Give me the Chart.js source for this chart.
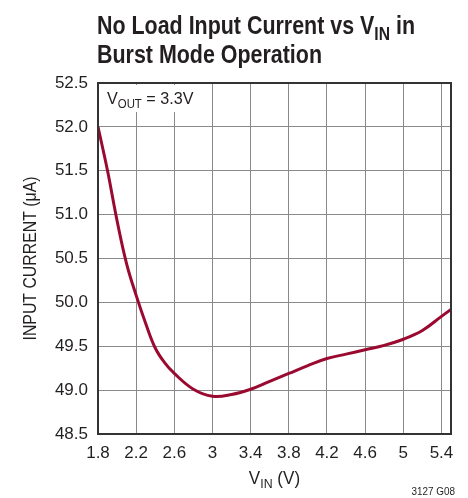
<!DOCTYPE html>
<html>
<head>
<meta charset="utf-8">
<script src="https://cdn.jsdelivr.net/npm/chart.js@4.4.1/dist/chart.umd.min.js"></script>
<style>
  html, body { margin: 0; padding: 0; background: #fff; }
  #wrap { width: 468px; height: 498px; }
</style>
</head>
<body>
<div id="wrap"><canvas id="vinChart" width="468" height="498"></canvas></div>
<script>
// data
const vin = [1.8, 1.9, 2.0, 2.1, 2.2, 2.3, 2.4, 2.5, 2.6, 2.8, 3.0, 3.2, 3.4, 3.6, 3.8, 4.0, 4.2, 4.4, 4.6, 4.8, 5.0, 5.2, 5.4, 5.5];
const current = [52.0, 51.5, 50.93, 50.44, 50.08, 49.76, 49.48, 49.31, 49.19, 49.01, 48.93, 48.95, 49.01, 49.1, 49.19, 49.28, 49.36, 49.41, 49.46, 49.51, 49.58, 49.68, 49.84, 49.92];
const xTicks = [1.8, 2.2, 2.6, 3, 3.4, 3.8, 4.2, 4.6, 5, 5.4];
const yTicks = [48.5, 49.0, 49.5, 50.0, 50.5, 51.0, 51.5, 52.0, 52.5];

const FONT = "'Liberation Sans', Arial, sans-serif";
const INK = "#231f20";

// draw text with subscript pieces, squeeze = horizontal scale
const drawParts = (ctx, parts, x, y, size, weight, align, squeeze) => {
  squeeze = squeeze || 1;
  let total = 0;
  for (let p of parts) {
    ctx.font = `${weight} ${p.sub ? Math.round(size * 0.72) : size}px ${FONT}`;
    p.w = ctx.measureText(p.t).width * squeeze;
    total += p.w;
  }
  let cx = x;
  if (align === "center") cx = x - total / 2;
  if (align === "right") cx = x - total;
  ctx.textAlign = "left";
  ctx.textBaseline = "alphabetic";
  for (let p of parts) {
    ctx.font = `${weight} ${p.sub ? Math.round(size * 0.72) : size}px ${FONT}`;
    ctx.save();
    ctx.translate(cx, p.sub ? y + size * 0.22 : y);
    ctx.scale(squeeze, 1);
    ctx.fillText(p.t, 0, 0);
    ctx.restore();
    cx += p.w;
  }
  return total;
};

const extras = {
  id: "extras",
  beforeDraw(c) {
    const ctx = c.ctx;
    ctx.save();
    ctx.fillStyle = "#fff";
    ctx.fillRect(0, 0, c.width, c.height);
    ctx.restore();
  },
  afterDraw(c) {
    const ctx = c.ctx, a = c.chartArea;
    ctx.save();

    // note box over the grid
    ctx.fillStyle = "#fff";
    ctx.fillRect(a.left + 2, a.top + 2, 76, 27);
    ctx.fillStyle = INK;
    drawParts(ctx, [{ t: "V" }, { t: "OUT", sub: true }, { t: " = 3.3V" }], a.left + 9, a.top + 21, 17, "normal", "left", 0.95);

    // frame
    ctx.strokeStyle = "#333";
    ctx.lineWidth = 2;
    ctx.strokeRect(a.left, a.top, a.right - a.left, a.bottom - a.top);

    // title, squeezed to look like a condensed face
    const t1 = [{ t: "No Load Input Current vs V" }, { t: "IN", sub: true }, { t: " in" }];
    let raw = 0;
    for (let p of t1) {
      ctx.font = `bold ${p.sub ? Math.round(26 * 0.72) : 26}px ${FONT}`;
      raw += ctx.measureText(p.t).width;
    }
    const sq = 318 / raw;
    drawParts(ctx, t1, 97, 34, 26, "bold", "left", sq);
    drawParts(ctx, [{ t: "Burst Mode Operation" }], 97, 63, 26, "bold", "left", sq);

    // x axis title
    drawParts(ctx, [{ t: "V" }, { t: "IN", sub: true }, { t: " (V)" }], (a.left + a.right) / 2, 484, 18, "normal", "center", 0.95);

    // y axis title
    ctx.translate(36, (a.top + a.bottom) / 2);
    ctx.rotate(-Math.PI / 2);
    drawParts(ctx, [{ t: "INPUT CURRENT (\u03bcA)" }], 0, 0, 18, "normal", "center", 0.88);
    ctx.setTransform(1, 0, 0, 1, 0, 0);

    // footnote
    drawParts(ctx, [{ t: "3127 G08" }], 455, 495, 11, "normal", "right", 0.9);
    ctx.restore();
  },
};

const ctx = document.getElementById("vinChart");
new Chart(ctx, {
  type: "line",
  data: {
    labels: vin,
    datasets: [
      {
        data: vin.map((v, i) => ({ x: v, y: current[i] })),
        borderColor: "#9a0a30",
        borderWidth: 3,
        pointRadius: 0,
        tension: 0.4,
        fill: false,
      },
    ],
  },
  options: {
    responsive: false,
    animation: false,
    layout: { padding: { left: 0, top: 83, right: 17, bottom: 0 } },
    plugins: { legend: { display: false }, tooltip: { enabled: false } },
    scales: {
      x: {
        type: "linear",
        min: 1.8,
        max: 5.5,
        afterBuildTicks: (s) => { s.ticks = xTicks.map((v) => ({ value: v })); },
        afterFit: (s) => { s.height = 64; },
        grid: { color: "#8a8a8a", lineWidth: 1, drawTicks: false },
        border: { display: false },
        ticks: {
          color: INK,
          font: { family: FONT, size: 17 },
          padding: 9,
          maxRotation: 0,
          autoSkip: false,
          callback: (v) => String(v),
        },
      },
      y: {
        min: 48.5,
        max: 52.5,
        afterBuildTicks: (s) => { s.ticks = yTicks.map((v) => ({ value: v })); },
        afterFit: (s) => { s.width = 98; },
        grid: { color: "#8a8a8a", lineWidth: 1, drawTicks: false },
        border: { display: false },
        ticks: {
          color: INK,
          font: { family: FONT, size: 17 },
          padding: 10,
          callback: (v) => v.toFixed(1),
        },
      },
    },
  },
  plugins: [extras],
});
</script>
</body>
</html>
